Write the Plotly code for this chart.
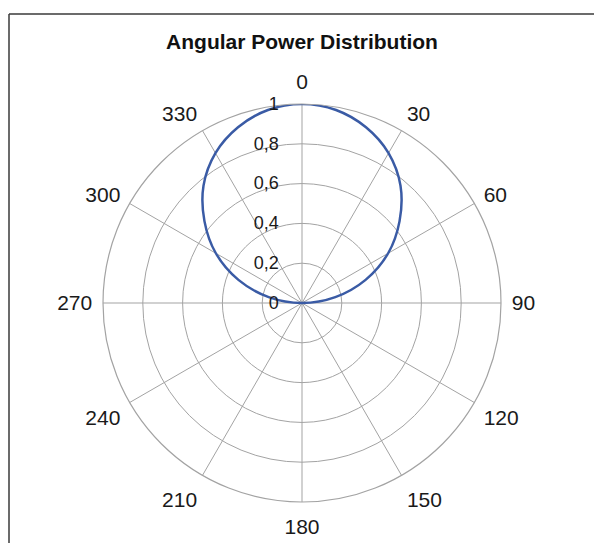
import plotly.graph_objects as go

# Data (angle in degrees, normalized power)
angles_deg = [270, 280, 290, 300, 310, 320, 330, 340, 350, 0,
              10, 20, 30, 40, 50, 60, 70, 80, 90]
power = [0.0, 0.17, 0.34, 0.50, 0.64, 0.77, 0.87, 0.94, 0.985, 1.0,
         0.985, 0.94, 0.87, 0.77, 0.64, 0.50, 0.34, 0.17, 0.0]

angular_ticks = [0, 30, 60, 90, 120, 150, 180, 210, 240, 270, 300, 330]
radial_ticks = [0, 0.2, 0.4, 0.6, 0.8, 1.0]
radial_labels = ["0", "0,2", "0,4", "0,6", "0,8", "1"]

W, H = 594, 543
cx, cy, R = 302, 303, 199

fig = go.Figure()
fig.add_trace(go.Scatterpolar(
    r=power, theta=angles_deg, mode="lines",
    line=dict(color="#3A5BA5", width=2.5, shape="spline"),
    showlegend=False, hoverinfo="skip",
))

font_family = "Liberation Sans, Arial, sans-serif"
grid_col = "#A3A3A3"
pad = "\u00a0" * 4
frame_col = "#3a3a3a"
fx, fy = 9 / W, 1 - 14 / H

fig.update_layout(
    width=W, height=H,
    margin=dict(l=0, r=0, t=0, b=0),
    paper_bgcolor="white",
    font=dict(family=font_family, size=21, color="#1a1a1a"),
    title=dict(text="<b>Angular Power Distribution</b>",
               x=cx / W, xanchor="center",
               y=1 - 42 / H, yanchor="middle",
               font=dict(family=font_family, size=21, color="#111111")),
    polar=dict(
        domain=dict(x=[(cx - R) / W, (cx + R) / W],
                    y=[(H - cy - R) / H, (H - cy + R) / H]),
        bgcolor="white",
        radialaxis=dict(
            range=[0, 1], tickvals=radial_ticks,
            ticktext=[t + pad for t in radial_labels],
            angle=90, side="counterclockwise", tickangle=90,
            showline=False, ticks="",
            gridcolor=grid_col, gridwidth=1.2,
            tickfont=dict(size=18, color="#1a1a1a"),
        ),
        angularaxis=dict(
            rotation=90, direction="clockwise",
            tickvals=angular_ticks, ticktext=[str(a) for a in angular_ticks],
            showline=True, linecolor=grid_col, linewidth=1.2,
            gridcolor=grid_col, gridwidth=1.2,
            ticks="outside", ticklen=6, tickcolor="rgba(0,0,0,0)",
            tickfont=dict(size=21, color="#1a1a1a"),
        ),
    ),
    shapes=[
        dict(type="line", xref="paper", yref="paper",
             x0=fx, x1=1.1, y0=fy, y1=fy,
             line=dict(color=frame_col, width=1.5), layer="below"),
        dict(type="line", xref="paper", yref="paper",
             x0=fx, x1=fx, y0=-0.1, y1=fy,
             line=dict(color=frame_col, width=1.5), layer="below"),
    ],
)

fig.write_html("out.html",
               config={"displayModeBar": False},
               post_script=("document.body.style.margin='0';"
                            "document.body.style.overflow='hidden';"
                            "document.documentElement.style.overflow='hidden';"))
